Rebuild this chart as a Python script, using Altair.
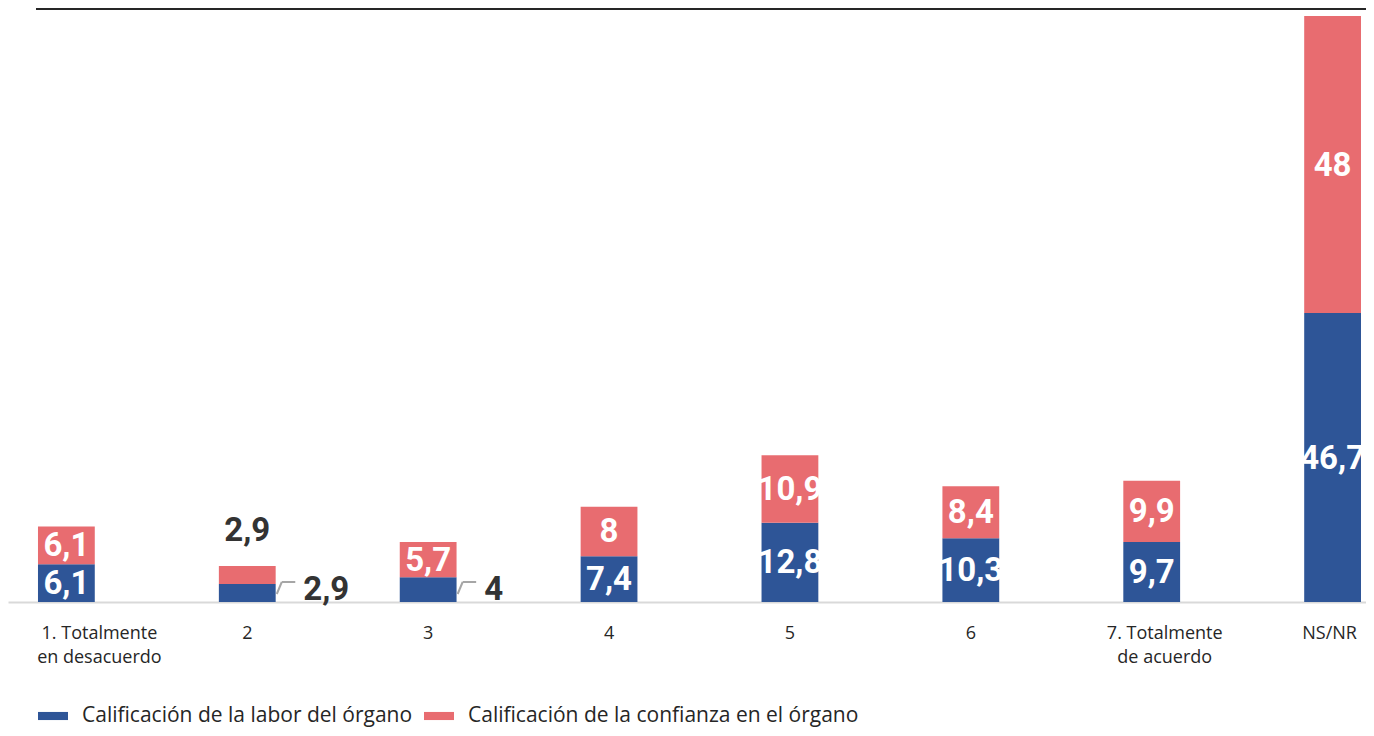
import altair as alt
import pandas as pd

categories = ["1. Totalmente en desacuerdo", "2", "3", "4", "5", "6",
              "7. Totalmente de acuerdo", "NS/NR"]
series = ["Calificación de la labor del órgano",
          "Calificación de la confianza en el órgano"]
labor = [6.1, 2.9, 4, 7.4, 12.8, 10.3, 9.7, 46.7]
confianza = [6.1, 2.9, 5.7, 8, 10.9, 8.4, 9.9, 48]
# where each value label sits: inside the segment, above the bar, or to its right
pos_labor = ["in", "right", "right", "in", "in", "in", "in", "in"]
pos_confianza = ["in", "above", "in", "in", "in", "in", "in", "in"]

BLUE = "#2E5597"
RED = "#E86C70"
DARK = "#333333"
NUM_FONT = "Roboto"
NUM_SIZE = 33

rows = []
for i, c in enumerate(categories):
    rows.append({"cat": c, "serie": series[0], "value": labor[i], "order": 0, "pos": pos_labor[i]})
    rows.append({"cat": c, "serie": series[1], "value": confianza[i], "order": 1, "pos": pos_confianza[i]})
df = pd.DataFrame(rows)

label_expr = ("datum.label == '1. Totalmente en desacuerdo' ? ['1. Totalmente', 'en desacuerdo'] : "
              "datum.label == '7. Totalmente de acuerdo' ? ['7. Totalmente', 'de acuerdo'] : datum.label")

label_offset = {
    "condition": [
        {"test": "datum.value == '1. Totalmente en desacuerdo'", "value": 33},
        {"test": "datum.value == '7. Totalmente de acuerdo'", "value": 13},
        {"test": "datum.value == 'NS/NR'", "value": -3},
    ],
    "value": 0,
}

x_enc = alt.X("cat:N", sort=categories, title=None,
              scale=alt.Scale(paddingInner=0.686, paddingOuter=0.0967, align=0.857),
              axis=alt.Axis(labelAngle=0, ticks=False, domainColor="#D9D9D9", domainWidth=2,
                            labelFont="Open Sans", labelFontSize=18, labelColor="#262626",
                            labelPadding=22, labelLineHeight=24, labelExpr=label_expr,
                            labelOffset=label_offset,
                            labelBaseline="top", grid=False))
y_scale = alt.Scale(domain=[0, 96])

base = alt.Chart(df).transform_stack(
    stack="value", groupby=["cat"], as_=["y0", "y1"], sort=[alt.SortField("order")]
).transform_calculate(
    mid="(datum.y0 + datum.y1) / 2",
    label="replace(format(datum.value, '.1~f'), '.', ',')"
)

bars = base.mark_bar().encode(
    x=x_enc,
    y=alt.Y("y0:Q", scale=y_scale, axis=None),
    y2="y1:Q",
    color=alt.Color("serie:N", scale=alt.Scale(domain=series, range=[BLUE, RED]),
                    legend=alt.Legend(orient="none", legendX=29, legendY=692, direction="horizontal",
                                      title=None, symbolType="M-1,-0.27H1V0.27H-1Z", symbolSize=900,
                                      labelFont="Open Sans", labelFontSize=21, labelColor="#262626",
                                      labelOffset=13, columnPadding=10, labelLimit=0)),
)

inside = base.transform_filter("datum.pos == 'in'").mark_text(
    color="white", font=NUM_FONT, fontWeight="bold", fontSize=NUM_SIZE, baseline="middle", dy=1
).encode(x=alt.X("cat:N", sort=categories), y=alt.Y("mid:Q", scale=y_scale), text="label:N")

above = base.transform_filter("datum.pos == 'above'").mark_text(
    color=DARK, font=NUM_FONT, fontWeight="bold", fontSize=NUM_SIZE, baseline="middle", dy=-35
).encode(x=alt.X("cat:N", sort=categories), y=alt.Y("y1:Q", scale=y_scale), text="label:N")

right = base.transform_filter("datum.pos == 'right'").mark_text(
    color=DARK, font=NUM_FONT, fontWeight="bold", fontSize=NUM_SIZE, baseline="alphabetic",
    align="left", dx=56, dy=-2
).encode(x=alt.X("cat:N", sort=categories), y=alt.Y("y0:Q", scale=y_scale), text="label:N")

lead_diag = base.transform_filter("datum.pos == 'right'").mark_rule(
    color="#A6A6A6", strokeWidth=2, xOffset=29.5, x2Offset=34.5, yOffset=-8, y2Offset=-20
).encode(x=alt.X("cat:N", sort=categories), x2=alt.X2("cat:N"),
         y=alt.Y("y0:Q", scale=y_scale), y2=alt.Y2("y0:Q"))

lead_h = base.transform_filter("datum.pos == 'right'").mark_rule(
    color="#A6A6A6", strokeWidth=2, xOffset=34.5, x2Offset=48, yOffset=-20, y2Offset=-20
).encode(x=alt.X("cat:N", sort=categories), x2=alt.X2("cat:N"),
         y=alt.Y("y0:Q", scale=y_scale), y2=alt.Y2("y0:Q"))

top_rule = alt.Chart(df).mark_rule(color="#262626", strokeWidth=2).encode(
    x=alt.value(28), x2=alt.value(1358), y=alt.value(1)
)

chart = alt.layer(bars, inside, above, right, lead_diag, lead_h, top_rule).properties(
    width=1358, height=594,
    autosize=alt.AutoSizeParams(type="none"),
    padding={"left": 0, "top": 0, "right": 0, "bottom": 126},
).configure_view(stroke=None)

chart.save("out.html", embed_options={"renderer": "svg", "actions": False})
